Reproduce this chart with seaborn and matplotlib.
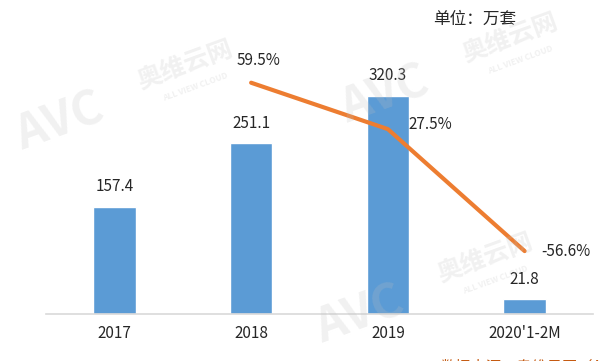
import numpy as np
import matplotlib
matplotlib.use("Agg")
import matplotlib.pyplot as plt
import seaborn as sns

categories = ["2017", "2018", "2019", "2020'1-2M"]
sales = [157.4, 251.1, 320.3, 21.8]
growth = [59.5, 27.5, -56.6]          # 2018 .. 2020'1-2M
growth_labels = ["59.5%", "27.5%", "-56.6%"]

BLUE = "#5B9BD5"
ORANGE = "#ED7D31"

sns.set_style("white")
plt.rcParams["font.family"] = ["Noto Sans CJK SC", "DejaVu Sans"]

W, H = 600, 361
fig = plt.figure(figsize=(6, 3.61), dpi=100)
ax = fig.add_axes([46 / W, (H - 314) / H, (593 - 46) / W, 290 / H])

x_pos = np.arange(len(categories))

sns.barplot(x=x_pos, y=sales, color=BLUE, width=0.31, saturation=1,
            native_scale=True, ax=ax)
ax.set_xlim(-0.5, len(categories) - 0.5)
ax.set_ylim(0, 426)
ax.set_xticks(x_pos)
ax.set_xticklabels(categories, fontsize=11)
ax.set_yticks([])
ax.tick_params(axis="x", length=0, pad=8)
for s in ["top", "left", "right"]:
    ax.spines[s].set_visible(False)
ax.spines["bottom"].set_color("#D9D9D9")
ax.spines["bottom"].set_linewidth(1.2)

for xp, v in zip(x_pos, sales):
    ax.annotate(f"{v:.1f}", (xp, v), xytext=(0, 20), textcoords="offset pixels",
                ha="center", va="center", fontsize=11)

# growth rate on a second axis
ax2 = ax.twinx()
sns.lineplot(x=x_pos[1:], y=growth, color=ORANGE, linewidth=3, ax=ax2)
ax2.set_ylim(-100, 100)
ax2.set_yticks([])
ax2.set_ylabel("")
for s in ax2.spines.values():
    s.set_visible(False)

offsets = [(7, 22), (42, 5), (41, 0)]
for xp, g, lab, off in zip(x_pos[1:], growth, growth_labels, offsets):
    ax2.annotate(lab, (xp, g), xytext=off, textcoords="offset pixels",
                 ha="center", va="center", fontsize=11)

fig.text(433 / W, (H - 19) / H, "单位：万套", fontsize=12, ha="left", va="center")
# source note, mostly below the bottom edge as in the original
fig.text(440 / W, (H - 359) / H, "数据来源：奥维云网（AVC）", fontsize=11,
         color="#C55A11", ha="left", va="top")


# faint AVC watermarks
def watermark(cx, cy):
    kw = dict(color="#BFBFBF", alpha=0.22, rotation=20, ha="center", va="center",
              zorder=10)
    fig.text(cx / W, (H - cy) / H, "AVC", fontsize=34, fontweight="bold",
             style="italic", **kw)
    fig.text((cx + 125) / W, (H - cy + 57) / H, "奥维云网", fontsize=18,
             fontweight="bold", **kw)
    fig.text((cx + 135) / W, (H - cy + 35) / H, "ALL VIEW CLOUD", fontsize=6,
             fontweight="bold", **kw)


watermark(60, 122)
watermark(385, 95)
watermark(360, 315)

fig.savefig("out.png", dpi=100)
